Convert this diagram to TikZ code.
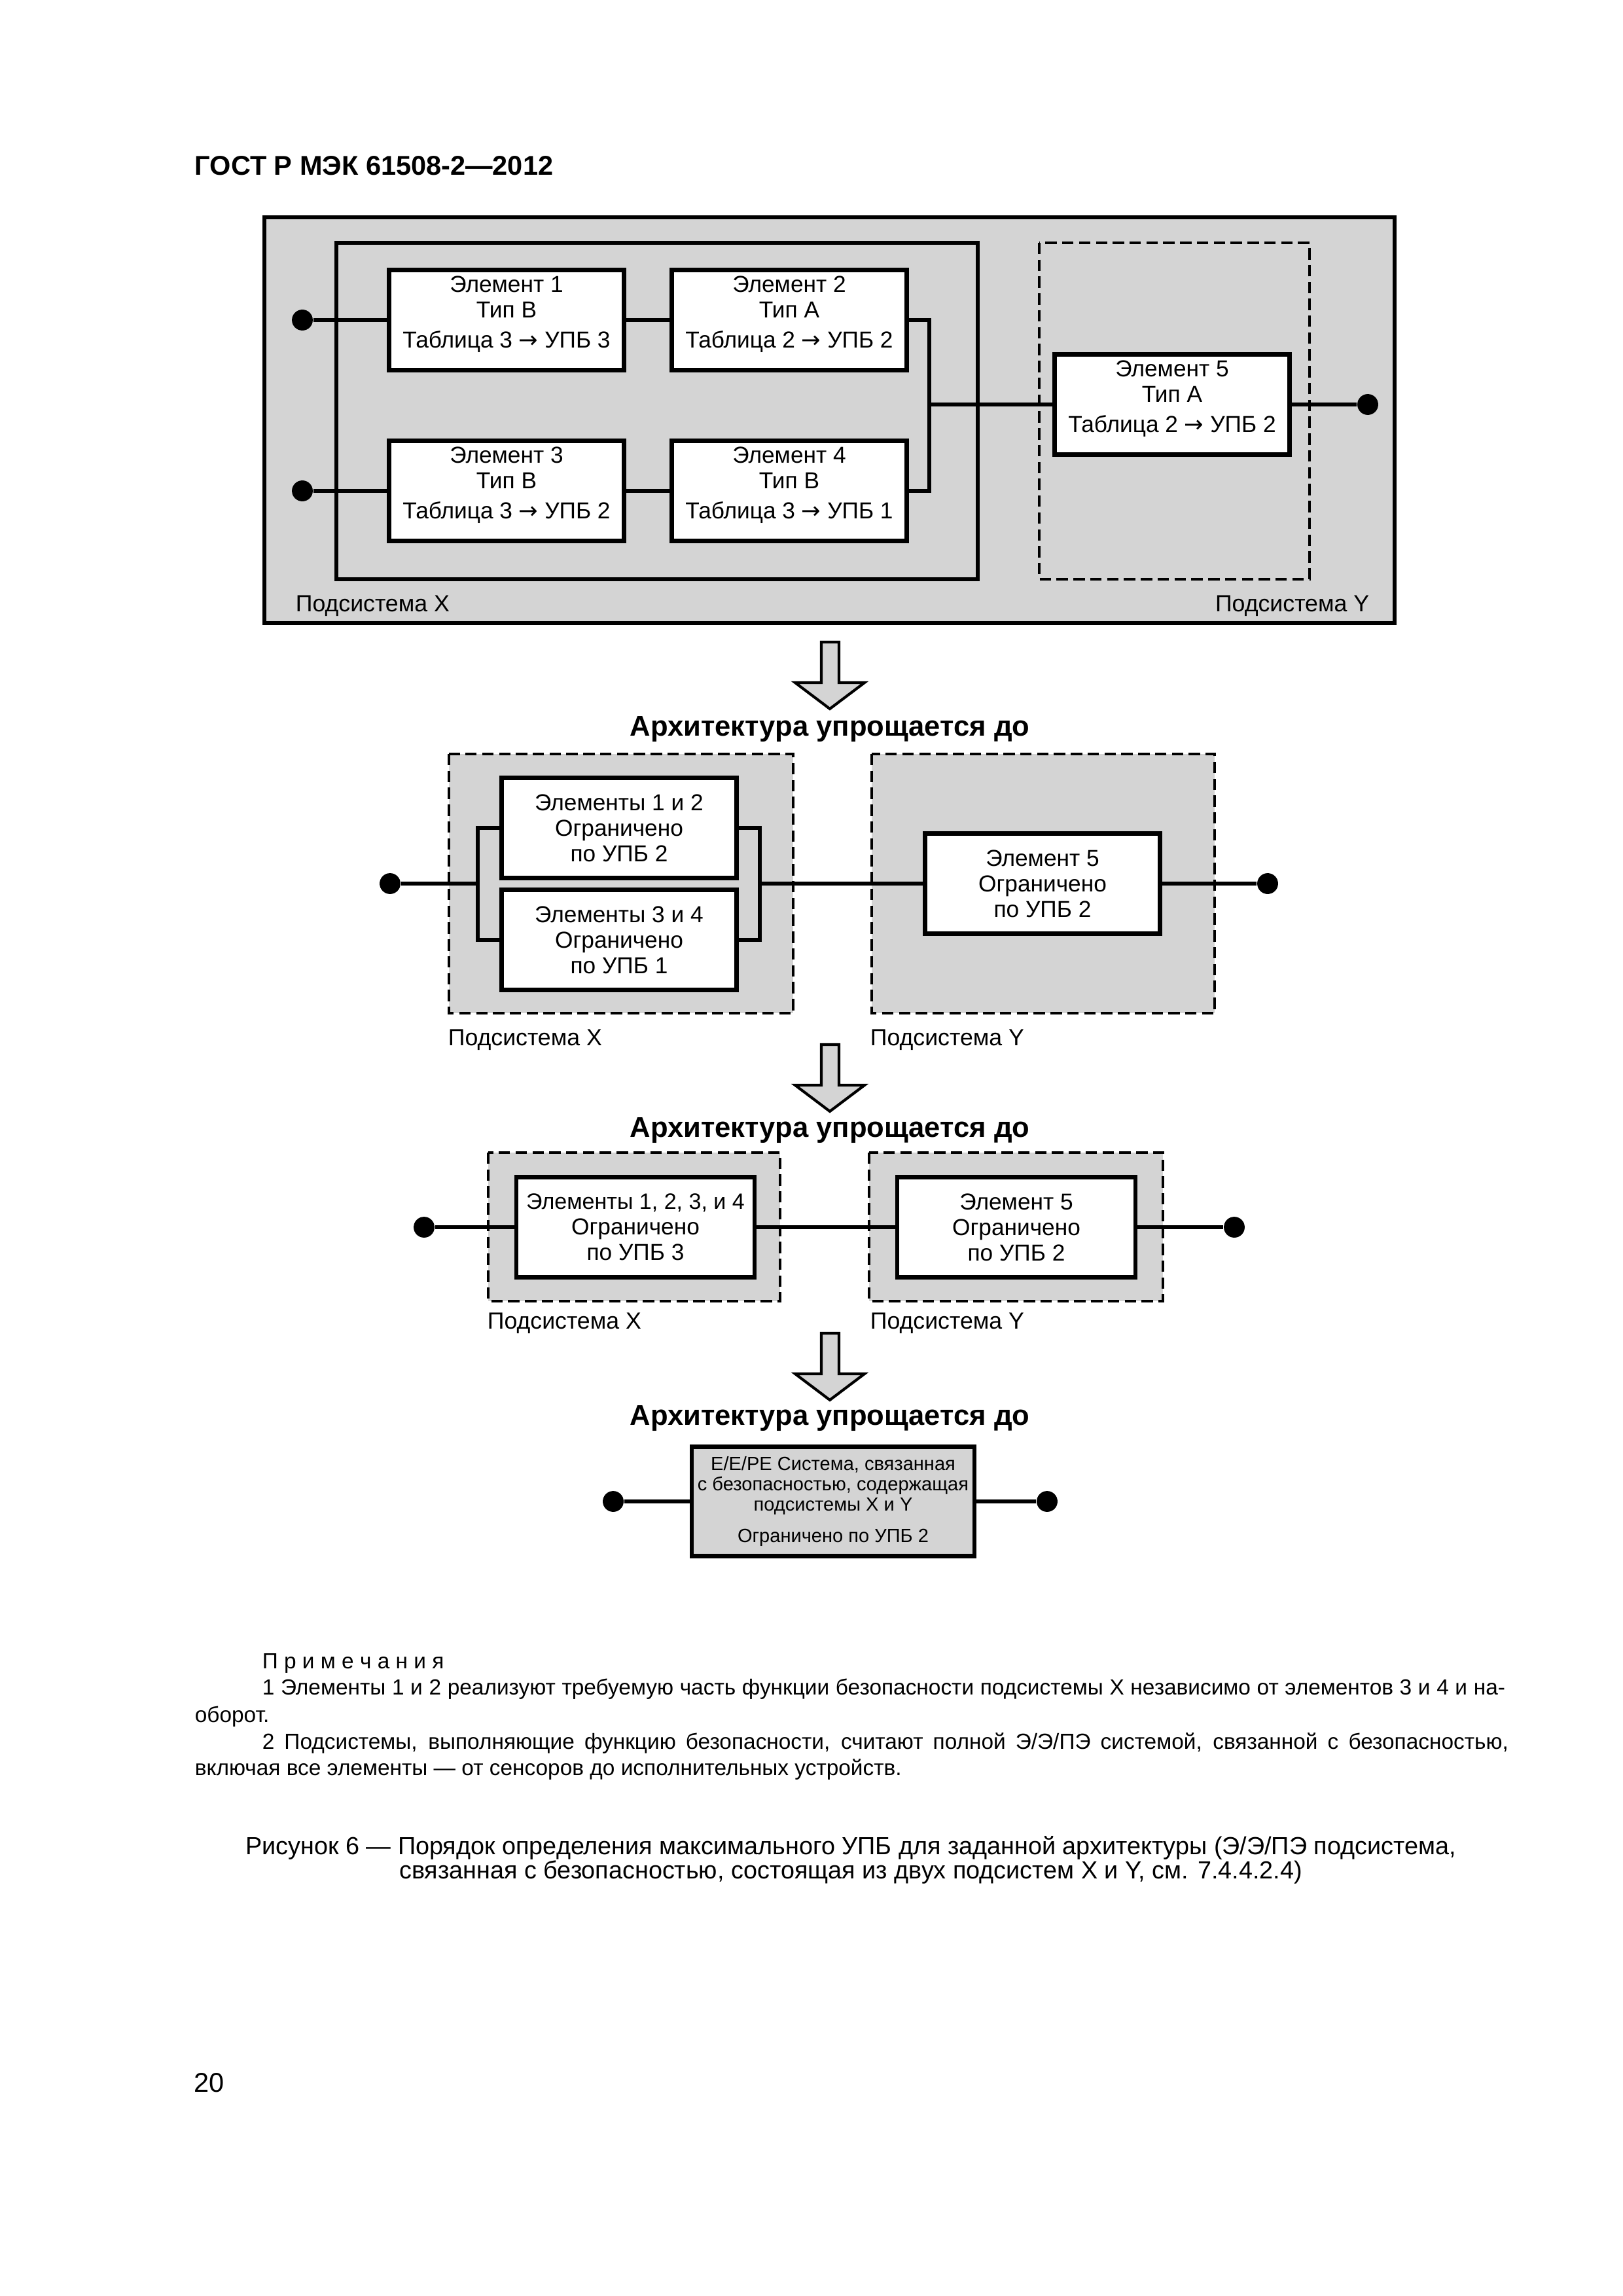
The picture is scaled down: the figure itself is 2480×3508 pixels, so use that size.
\documentclass[tikz,border=0pt]{standalone}
\usepackage{fontspec}
\setmainfont{Liberation Sans}
\newfontfamily\arrowfont{DejaVu Sans}
\newcommand{\arrowto}{{\arrowfont →}}
\usetikzlibrary{positioning}
\definecolor{panelgray}{RGB}{212,212,212}

\tikzset{
  thickline/.style={line width=1.6pt},
  elembox/.style={draw, line width=1.6pt, fill=white, minimum width=30.4mm,
    minimum height=13.0mm, inner sep=0pt, align=center,
    font=\fontsize{8.5}{9.4}\selectfont},
  typebox/.style={elembox, text depth=6pt},
  dashbox/.style={draw, line width=1pt, dash pattern=on 4.2pt off 2pt, fill=panelgray},
  terminal/.style={circle, fill=black, minimum size=2.7mm, inner sep=0pt},
  sublabel/.style={font=\fontsize{8.6}{9.4}\selectfont, inner sep=0pt},
  stagetitle/.style={font=\bfseries\fontsize{10.5}{12}\selectfont, inner sep=0pt, anchor=base},
  simparrow/.style={draw, line width=1pt, fill=panelgray, line join=miter},
  notetext/.style={font=\fontsize{8.05}{9.8}\selectfont, inner sep=0pt, anchor=base west},
}

\begin{document}
\begin{tikzpicture}[x=0.084677mm, y=-0.084677mm]
  \useasboundingbox (0,0) rectangle (2480,3508);

  \node[anchor=base west, inner sep=0pt, font=\bfseries\fontsize{10}{12}\selectfont]
    (gost) at (297,267) {ГОСТ Р МЭК 61508-2—2012};

  % исходная архитектура
  \draw[thickline, fill=panelgray] (404,332) rectangle (2131,952);
  \draw[thickline] (514,371) rectangle (1494,885);
  \draw[dashbox, fill=none] (1588,371) rectangle (2001,885);

  \node[typebox] (e1) at (774,489) {Элемент 1\\Тип B\\[1.5pt]Таблица 3 \arrowto{} УПБ 3};
  \node[typebox] (e2) at (1206,489) {Элемент 2\\Тип A\\[1.5pt]Таблица 2 \arrowto{} УПБ 2};
  \node[typebox] (e3) at (774,750) {Элемент 3\\Тип B\\[1.5pt]Таблица 3 \arrowto{} УПБ 2};
  \node[typebox] (e4) at (1206,750) {Элемент 4\\Тип B\\[1.5pt]Таблица 3 \arrowto{} УПБ 1};
  \node[typebox] (e5) at (1791,618) {Элемент 5\\Тип A\\[1.5pt]Таблица 2 \arrowto{} УПБ 2};

  \node[terminal] (in1) at (462,489) {};
  \node[terminal] (in3) at (462,750) {};
  \node[terminal] (out5) at (2090,618) {};
  \coordinate (jn) at (1420,618);

  \draw[thickline] (in1) -- (e1) -- (e2);
  \draw[thickline] (in3) -- (e3) -- (e4);
  \draw[thickline] (e2.east) -| (jn) |- (e4.east);
  \draw[thickline] (jn) -- (e5) -- (out5);

  \node[sublabel, anchor=base west] (lx1) at (451,934) {Подсистема X};
  \node[sublabel, anchor=base east] (ly1) at (2093,934) {Подсистема Y};

  % стрелки упрощения
  \foreach \ay/\ty in {981/1124,1596/1737,2037/2177}{
    \draw[simparrow] (1255,\ay) -- (1282,\ay) -- (1282,\ay+62) -- (1321,\ay+62)
      -- (1268,\ay+102) -- (1215,\ay+62) -- (1255,\ay+62) -- cycle;
    \node[stagetitle] at (1268,\ty) {Архитектура упрощается до};
  }

  % шаг 1
  \draw[dashbox] (686,1152) rectangle (1212,1548);
  \draw[dashbox] (1332,1152) rectangle (1856,1548);

  \node[elembox] (s12) at (946,1265) {Элементы 1 и 2\\Ограничено\\по УПБ 2};
  \node[elembox] (s34) at (946,1436) {Элементы 3 и 4\\Ограничено\\по УПБ 1};
  \node[elembox] (s5) at (1593,1350) {Элемент 5\\Ограничено\\по УПБ 2};

  \node[terminal] (in2) at (596,1350) {};
  \node[terminal] (out2) at (1937,1350) {};
  \coordinate (brl) at (730,1350);
  \coordinate (brr) at (1161,1350);

  \draw[thickline] (s12.west) -| (brl) |- (s34.west);
  \draw[thickline] (s12.east) -| (brr) |- (s34.east);
  \draw[thickline] (in2) -- (brl);
  \draw[thickline] (brr) -- (s5) -- (out2);

  \node[sublabel, anchor=base west] (lx2) at (684,1597) {Подсистема X};
  \node[sublabel, anchor=base west] (ly2) at (1329,1597) {Подсистема Y};

  % шаг 2
  \draw[dashbox] (746,1761) rectangle (1192,1988);
  \draw[dashbox] (1328,1761) rectangle (1777,1988);

  \node[elembox, minimum width=30.8mm] (t14) at (971,1875)
    {{\fontsize{8.2}{9.4}\selectfont Элементы 1, 2, 3, и 4}\\Ограничено\\по УПБ 3};
  \node[elembox, minimum width=30.8mm] (t5) at (1553,1875) {Элемент 5\\Ограничено\\по УПБ 2};

  \node[terminal] (in3s) at (648,1875) {};
  \node[terminal] (out3s) at (1886,1875) {};

  \draw[thickline] (in3s) -- (t14) -- (t5) -- (out3s);

  \node[sublabel, anchor=base west] (lx3) at (744,2030) {Подсистема X};
  \node[sublabel, anchor=base west] (ly3) at (1329,2030) {Подсистема Y};

  % шаг 3
  \node[draw, line width=1.6pt, fill=panelgray, minimum width=36.6mm, minimum height=14.1mm,
    inner sep=0pt, align=center, font=\fontsize{7}{7.5}\selectfont] (sys) at (1273,2294)
    {E/E/PE Система, связанная\\с безопасностью, содержащая\\подсистемы X и Y\\[4pt]Ограничено по УПБ 2};
  \node[terminal] (in4) at (937,2294) {};
  \node[terminal] (out4) at (1600,2294) {};
  \draw[thickline] (in4) -- (sys) -- (out4);

  % примечания и подпись
  \node[notetext] (nh) at (400,2549) {П р и м е ч а н и я};
  \node[notetext] (n1) at (400,2589) {\hbox to 160.8mm{1 Элементы 1 и 2 реализуют требуемую часть функции безопасности подсистемы X независимо от элементов 3 и 4 и на-}};
  \node[notetext] (n1b) at (297,2631) {оборот.};
  \node[notetext] (n2) at (400,2672) {\hbox to 161.2mm{2 Подсистемы, выполняющие функцию безопасности, считают полной Э/Э/ПЭ системой, связанной с безопасностью,}};
  \node[notetext] (n2b) at (297,2712) {включая все элементы — от сенсоров до исполнительных устройств.};

  \node[anchor=base, inner sep=0pt, font=\fontsize{9.1}{11}\selectfont] (cap1) at (1300,2833)
    {Рисунок 6 — Порядок определения максимального УПБ для заданной архитектуры (Э/Э/ПЭ подсистема,};
  \node[anchor=base, inner sep=0pt, font=\fontsize{9.1}{11}\selectfont] (cap2) at (1300,2870)
    {связанная с безопасностью, состоящая из двух подсистем X и Y, см. 7.4.4.2.4)};

  \node[anchor=base west, inner sep=0pt, font=\fontsize{10}{12}\selectfont] (pg) at (296,3196) {20};
\end{tikzpicture}
\end{document}
